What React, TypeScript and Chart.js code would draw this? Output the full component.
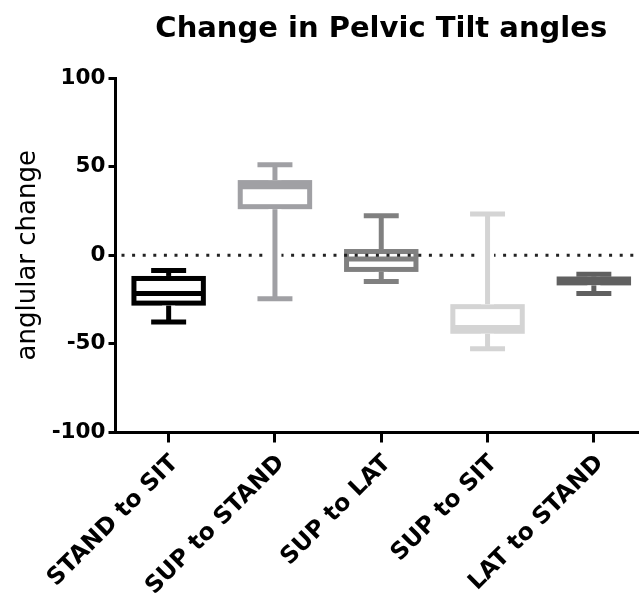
import { useEffect, useRef } from 'react';
import { Chart, registerables } from 'chart.js';

Chart.register(...registerables);

const categories = ['STAND to SIT', 'SUP to STAND', 'SUP to LAT', 'SUP to SIT', 'LAT to STAND'];
const whiskerLow = [-37.7, -24.6, -14.8, -52.8, -21.6];
const quartile1 = [-27.0, 27.4, -8.0, -42.9, -15.6];
const medians = [-21.6, 38.6, -2.1, -40.7, -14.5];
const quartile3 = [-13.1, 41.0, 2.1, -29.0, -13.4];
const whiskerHigh = [-8.6, 51.1, 22.3, 23.3, -10.7];
const boxColors = ['#000000', '#a0a0a4', '#808080', '#d4d4d4', '#606060'];
const yTicks = [-100, -50, 0, 50, 100];
const titleText = 'Change in Pelvic Tilt angles';
const yTitle = 'anglular change';

const FONT = 'DejaVu Sans';

const boxPlugin = {
  id: 'boxPlugin',
  afterDatasetsDraw(chart: any) {
    const ctx = chart.ctx;
    const y = chart.scales.y;
    const area = chart.chartArea;
    const meta = chart.getDatasetMeta(0);
    const lw = 5;
    ctx.save();
    ctx.setLineDash([]);
    // boxes and medians
    meta.data.forEach((bar: any, i: number) => {
      const { x, width } = bar.getProps(['x', 'width'], true);
      const half = width / 2 - lw / 2;
      const yQ1 = y.getPixelForValue(quartile1[i]);
      const yQ3 = y.getPixelForValue(quartile3[i]);
      const yMed = y.getPixelForValue(medians[i]);
      ctx.fillStyle = '#ffffff';
      ctx.fillRect(x - half, yQ3, 2 * half, yQ1 - yQ3);
      ctx.strokeStyle = boxColors[i];
      ctx.lineWidth = lw;
      ctx.strokeRect(x - half, yQ3, 2 * half, yQ1 - yQ3);
      ctx.beginPath();
      ctx.moveTo(x - half, yMed);
      ctx.lineTo(x + half, yMed);
      ctx.stroke();
    });
    // dotted zero line
    const y0 = y.getPixelForValue(0);
    ctx.beginPath();
    ctx.setLineDash([3, 7.6]);
    ctx.lineWidth = 3;
    ctx.strokeStyle = '#222222';
    ctx.moveTo(area.left + 6, y0);
    ctx.lineTo(area.right, y0);
    ctx.stroke();
    ctx.setLineDash([]);
    // whiskers
    meta.data.forEach((bar: any, i: number) => {
      const { x, width } = bar.getProps(['x', 'width'], true);
      const capHalf = width * 0.235;
      const yQ1 = y.getPixelForValue(quartile1[i]);
      const yQ3 = y.getPixelForValue(quartile3[i]);
      const yLo = y.getPixelForValue(whiskerLow[i]);
      const yHi = y.getPixelForValue(whiskerHigh[i]);
      const segs = [
        [yQ3 - lw / 2, yHi],
        [yQ1 + lw / 2, yLo],
      ];
      segs.forEach(([a, b]) => {
        ctx.beginPath();
        ctx.strokeStyle = '#ffffff';
        ctx.lineWidth = 13;
        ctx.moveTo(x, a);
        ctx.lineTo(x, b);
        ctx.stroke();
        ctx.beginPath();
        ctx.strokeStyle = boxColors[i];
        ctx.lineWidth = lw;
        ctx.moveTo(x, a);
        ctx.lineTo(x, b);
        ctx.stroke();
        ctx.beginPath();
        ctx.moveTo(x - capHalf, b);
        ctx.lineTo(x + capHalf, b);
        ctx.stroke();
      });
    });
    ctx.restore();
  },
};

const titlePlugin = {
  id: 'centeredTitle',
  afterDraw(chart: any) {
    const ctx = chart.ctx;
    const area = chart.chartArea;
    ctx.save();
    ctx.font = `bold 29px "${FONT}"`;
    ctx.fillStyle = '#000000';
    ctx.textAlign = 'center';
    ctx.textBaseline = 'alphabetic';
    ctx.fillText(titleText, (area.left + area.right) / 2, 37);
    ctx.restore();
  },
};

export default function App() {
  const ref = useRef<HTMLCanvasElement>(null);
  useEffect(() => {
    if (!ref.current) return;
    Chart.defaults.font.family = FONT;
    const chart = new Chart(ref.current, {
      type: 'bar',
      data: {
        labels: categories,
        datasets: [
          {
            data: categories.map((_, i) => [quartile1[i], quartile3[i]]) as any,
            backgroundColor: 'rgba(0,0,0,0)',
            borderWidth: 0,
            barPercentage: 0.7,
            categoryPercentage: 1,
          },
        ],
      },
      options: {
        responsive: false,
        animation: false,
        devicePixelRatio: 1,
        layout: { padding: { top: 78, right: 13, left: 0, bottom: 0 } },
        plugins: {
          legend: { display: false },
          tooltip: { enabled: false },
          title: { display: false },
        },
        scales: {
          x: {
            type: 'category',
            offset: true,
            grid: {
              offset: false,
              drawOnChartArea: false,
              tickLength: 10,
              color: '#000000',
              lineWidth: 3,
            },
            border: { color: '#000000', width: 3 },
            ticks: {
              font: { family: FONT, weight: 'bold', size: 23.5 },
              color: '#000000',
              minRotation: 45,
              maxRotation: 45,
              autoSkip: false,
              padding: 7,
              labelOffset: 6,
            },
            afterFit: (s: any) => {
              s.height = 167.5;
            },
          },
          y: {
            min: -100,
            max: 100,
            afterBuildTicks: (s: any) => {
              s.ticks = yTicks.map((v) => ({ value: v }));
            },
            grid: {
              drawOnChartArea: false,
              tickLength: 7,
              color: '#000000',
              lineWidth: 3,
            },
            border: { color: '#000000', width: 3 },
            ticks: {
              font: { family: FONT, weight: 'bold', size: 21.5 },
              color: '#000000',
              padding: 3,
            },
            title: {
              display: true,
              text: yTitle,
              color: '#000000',
              font: { family: FONT, size: 26, weight: 'normal' },
              padding: { top: 13, bottom: 0 },
            },
            afterFit: (s: any) => {
              s.width = 115.5;
            },
          },
        },
      } as any,
      plugins: [boxPlugin, titlePlugin],
    });
    return () => chart.destroy();
  }, []);
  return (
    <div
      style={{
        position: 'absolute',
        left: 0,
        top: 0,
        width: 639,
        height: 600,
        overflow: 'hidden',
        background: '#ffffff',
      }}
    >
      <canvas ref={ref} width={660} height={600} style={{ display: 'block', width: 660, height: 600 }} />
    </div>
  );
}
